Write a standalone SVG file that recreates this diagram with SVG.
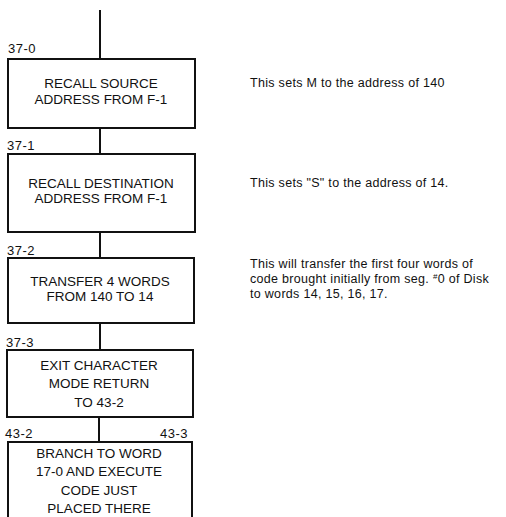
<svg xmlns="http://www.w3.org/2000/svg" width="506" height="517" viewBox="0 0 506 517">
<style>
.box{fill:#fff;stroke:#111;stroke-width:2}
.ln{stroke:#111;stroke-width:2;fill:none}
.t{font-family:"Liberation Sans",Arial,sans-serif;font-size:13.5px;fill:#111;text-anchor:middle}
.lbl{font-family:"Liberation Sans",Arial,sans-serif;font-size:13px;fill:#111;letter-spacing:0.5px}
.note{font-family:"Liberation Sans",Arial,sans-serif;font-size:12.5px;fill:#111;letter-spacing:0.3px}
</style>
<rect width="506" height="517" fill="#fff"/>
<g id="connectors">
<line class="ln" x1="100" y1="10" x2="100" y2="59"/>
<line class="ln" x1="100" y1="128" x2="100" y2="154"/>
<line class="ln" x1="100" y1="232" x2="100" y2="258"/>
<line class="ln" x1="100" y1="323" x2="100" y2="350"/>
<line class="ln" x1="99" y1="417" x2="99" y2="442"/>
</g>
<g id="n1">
<rect class="box" x="8" y="59" width="187" height="69"/>
<text class="lbl" x="8" y="53">37-0</text>
<text class="t" x="101" y="88">RECALL SOURCE</text>
<text class="t" x="101" y="104">ADDRESS FROM F-1</text>
</g>
<g id="n2">
<rect class="box" x="8" y="154" width="187" height="78"/>
<text class="lbl" x="7" y="150">37-1</text>
<text class="t" x="101" y="188">RECALL DESTINATION</text>
<text class="t" x="101" y="203">ADDRESS FROM F-1</text>
</g>
<g id="n3">
<rect class="box" x="8" y="258" width="186" height="65"/>
<text class="lbl" x="7" y="255">37-2</text>
<text class="t" x="100" y="286">TRANSFER 4 WORDS</text>
<text class="t" x="100" y="301">FROM 140 TO 14</text>
</g>
<g id="n4">
<rect class="box" x="7" y="350" width="186" height="67"/>
<text class="lbl" x="6" y="347">37-3</text>
<text class="t" x="99" y="370">EXIT CHARACTER</text>
<text class="t" x="99" y="388">MODE RETURN</text>
<text class="t" x="99" y="407">TO 43-2</text>
</g>
<g id="n5">
<path class="ln" d="M8,522 V442 H192 V522"/>
<text class="lbl" x="5" y="438">43-2</text>
<text class="lbl" x="160" y="438">43-3</text>
<text class="t" x="99" y="458">BRANCH TO WORD</text>
<text class="t" x="99" y="476">17-0 AND EXECUTE</text>
<text class="t" x="99" y="495">CODE JUST</text>
<text class="t" x="99" y="513">PLACED THERE</text>
</g>
<g id="notes">
<text class="note" x="250" y="87">This sets M to the address of 140</text>
<text class="note" x="250" y="187">This sets "S" to the address of 14.</text>
<text class="note" x="250" y="268">This will transfer the first four words of</text>
<text class="note" x="250" y="283">code brought initially from seg. <tspan font-size="8" dy="-4">#</tspan><tspan dy="4">0 of Disk</tspan></text>
<text class="note" x="250" y="298">to words 14, 15, 16, 17.</text>
</g>
</svg>
